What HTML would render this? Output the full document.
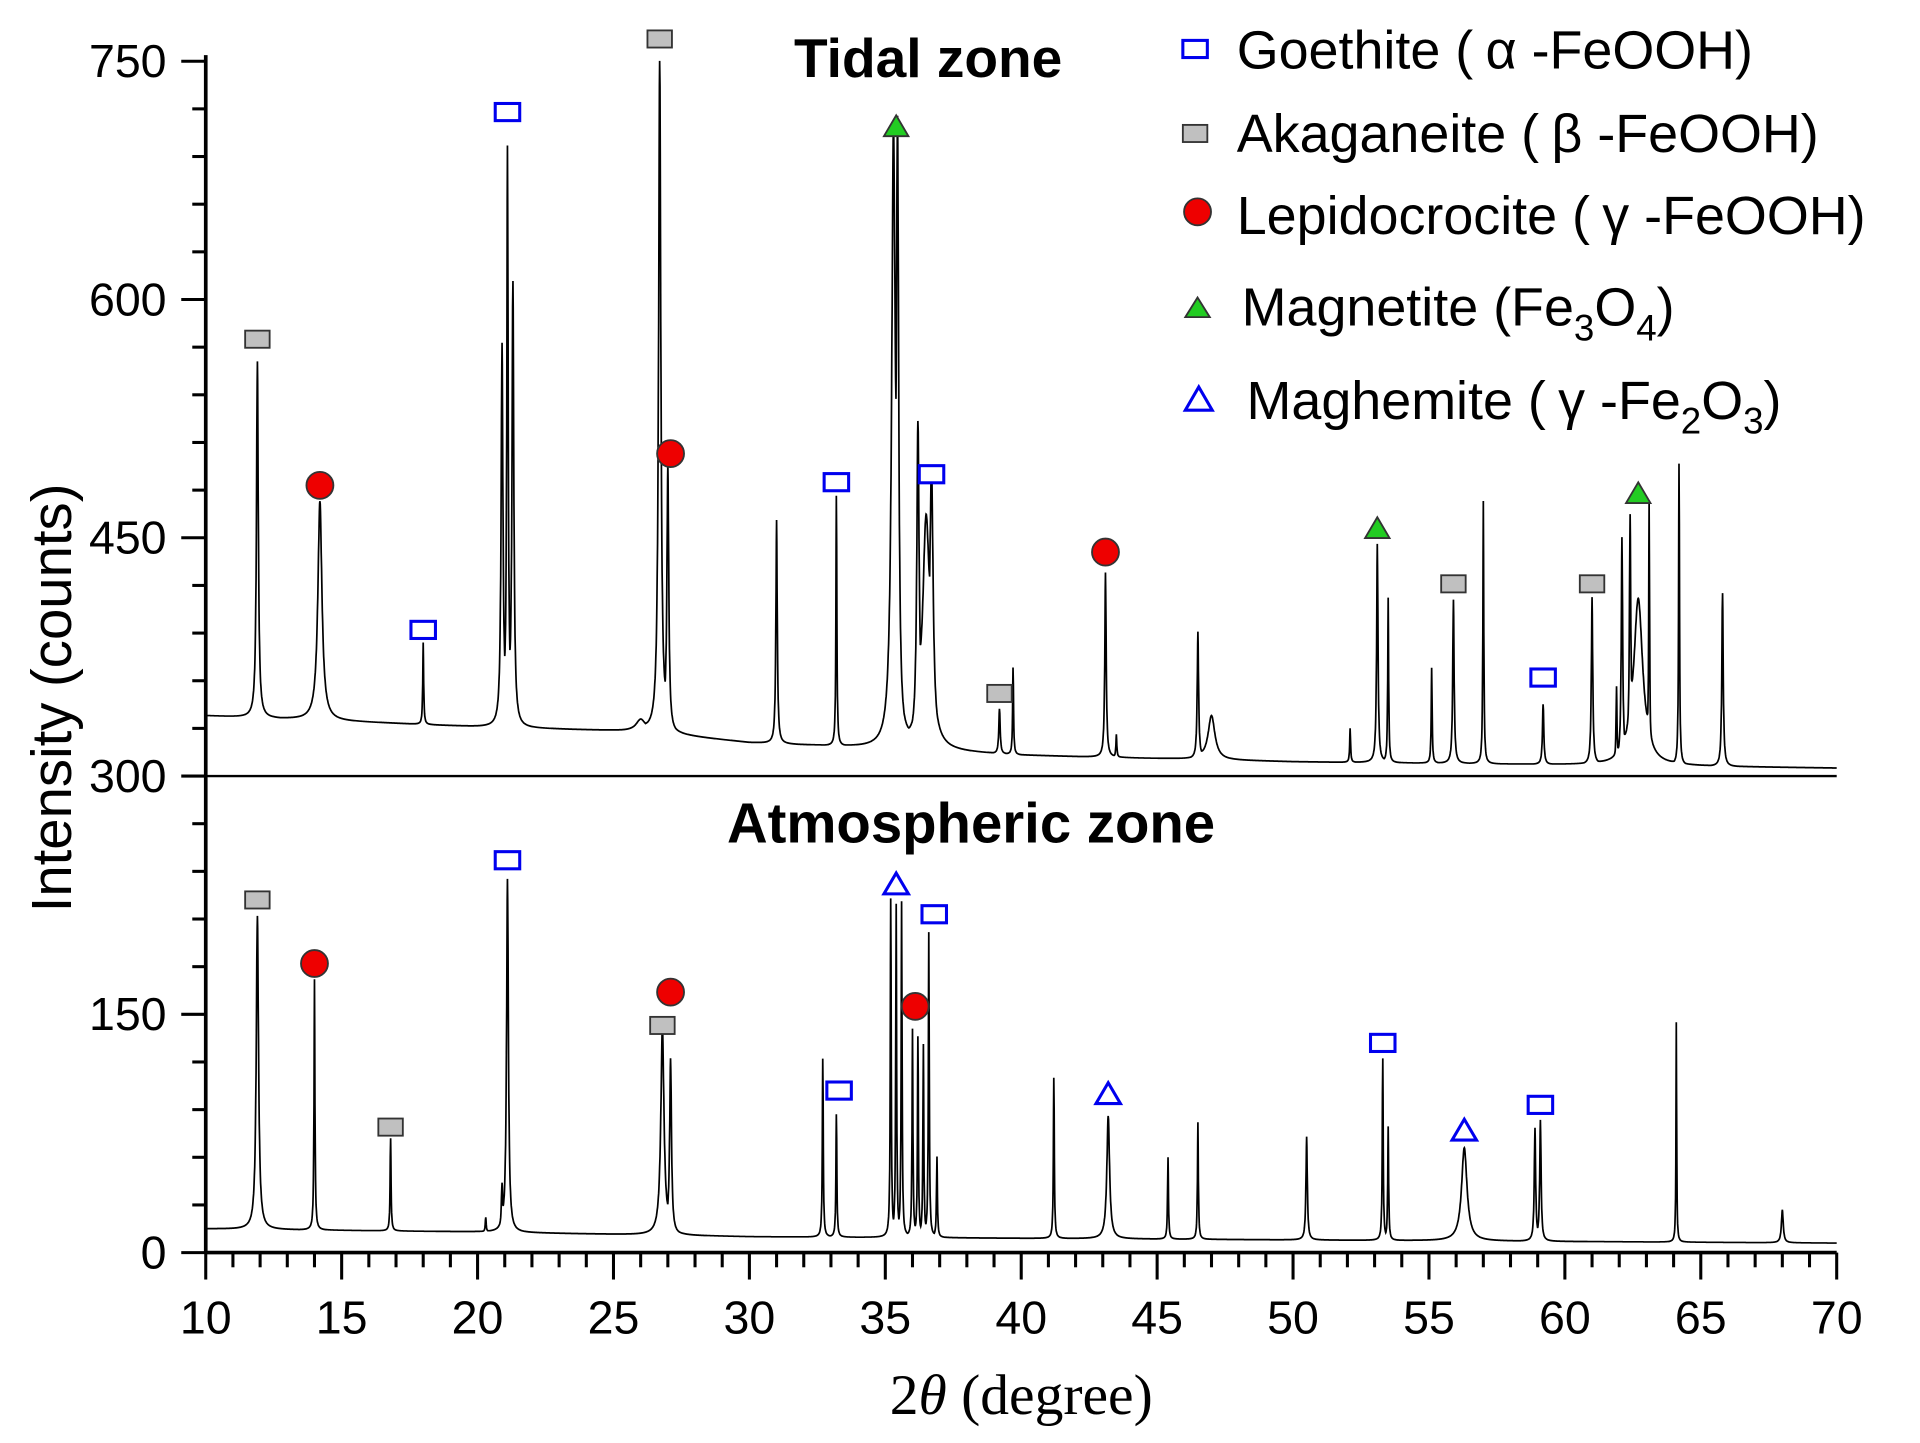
<!DOCTYPE html>
<html><head><meta charset="utf-8">
<style>html,body{margin:0;padding:0;background:#fff}svg{display:block}</style>
</head><body>
<svg id="chart" width="1920" height="1443" viewBox="0 0 1568 1178.5" xmlns="http://www.w3.org/2000/svg" font-family="Liberation Sans, sans-serif">
<g id="axes"></g>
<g id="series"></g>
<g id="markers"></g>
<text x="758" y="63" font-size="45" font-weight="bold" text-anchor="middle">Tidal zone</text>
<text x="793" y="688" font-size="46" font-weight="bold" text-anchor="middle">Atmospheric zone</text>
<text transform="translate(58,570) rotate(-90)" font-size="46" text-anchor="middle">Intensity (counts)</text>
<text x="834" y="1155" font-size="47" text-anchor="middle" font-family="Liberation Serif, serif">2<tspan font-style="italic">θ</tspan> (degree)</text>
<g id="legend" font-size="44">
 <g><rect x="966" y="33" width="20" height="14" fill="none" stroke="#0000ee" stroke-width="2.5"/><text x="1010" y="56">Goethite (<tspan dx="10">α</tspan> -FeOOH)</text></g>
 <g><rect x="966" y="102" width="20" height="14" fill="#c0c0c0" stroke="#333" stroke-width="1.5"/><text x="1010" y="124">Akaganeite (<tspan dx="10">β</tspan> -FeOOH)</text></g>
 <g><circle cx="978" cy="173" r="11" fill="#ee0000" stroke="#333" stroke-width="1.5"/><text x="1010" y="191">Lepidocrocite (<tspan dx="10">γ</tspan> -FeOOH)</text></g>
 <g><polygon points="968,259 988,259 978,243" fill="#22cc22" stroke="#333" stroke-width="1.5"/><text x="1014" y="266">Magnetite (Fe<tspan font-size="30" dy="12">3</tspan><tspan dy="-12">O</tspan><tspan font-size="30" dy="12">4</tspan><tspan dy="-12">)</tspan></text></g>
 <g><polygon points="968,335 990,335 979,316" fill="none" stroke="#0000ee" stroke-width="2.5"/><text x="1018" y="342">Maghemite (<tspan dx="10">γ</tspan> -Fe<tspan font-size="30" dy="12">2</tspan><tspan dy="-12">O</tspan><tspan font-size="30" dy="12">3</tspan><tspan dy="-12">)</tspan></text></g>
</g>
</svg>
<script>
const xTicks = [10,15,20,25,30,35,40,45,50,55,60,65,70];
const yTicks = [0,150,300,450,600,750];
// Tidal zone
const tidalBaseX = [10,20,26,30,34,40,50,60,70];
const tidalBaseY = [338,331,328,321,318,313,309,307,305];
const tidalPos = [11.9,14.2,18.0,20.9,21.1,21.3,26.0,26.7,27.0,31.0,33.2,35.3,35.45,36.2,36.5,36.7,39.2,39.7,43.1,43.5,46.5,47.0,52.1,53.1,53.5,55.1,55.9,57.0,59.2,61.0,61.9,62.1,62.4,62.7,63.1,64.2,65.8];
const tidalTop = [561,473,384,569,690,608,335,749,492,461,476,694,685,511,456,476,342,368,428,326,390,338,330,446,412,368,411,473,345,412,353,446,453,411,465,496,415];
const tidalWidth = [0.04,0.09,0.02,0.04,0.03,0.04,0.2,0.05,0.04,0.03,0.02,0.08,0.05,0.05,0.15,0.07,0.03,0.02,0.03,0.02,0.03,0.15,0.02,0.03,0.02,0.02,0.03,0.02,0.03,0.03,0.02,0.03,0.03,0.2,0.02,0.02,0.03];
// Atmospheric zone
const atmBaseX = [10,20,30,40,50,60,70];
const atmBaseY = [15,13,10,9,8,7,6];
const atmPos = [11.9,14.0,16.8,20.3,20.9,21.1,26.8,27.1,32.7,33.2,35.2,35.4,35.6,36.0,36.2,36.4,36.6,36.9,41.2,43.2,45.4,46.5,50.5,53.3,53.5,56.3,58.9,59.1,64.1,68.0];
const atmTop = [212,172,72,22,41,235,141,120,122,87,222,218,220,140,135,130,201,60,110,86,60,82,73,122,79,66,78,83,145,27];
const atmWidth = [0.05,0.02,0.02,0.02,0.03,0.04,0.07,0.04,0.02,0.02,0.02,0.02,0.02,0.02,0.02,0.02,0.02,0.02,0.02,0.06,0.02,0.02,0.03,0.02,0.02,0.12,0.03,0.03,0.015,0.04];
// Markers: [deg, counts]
const akaganeiteTidal = [[11.9,575],[26.7,764],[39.2,352],[55.9,421],[61.0,421]];
const goethiteTidal = [[21.1,718],[18.0,392],[33.2,485],[36.7,490],[59.2,362]];
const lepidoTidal = [[14.2,483],[27.1,503],[43.1,441]];
const magnetiteTidal = [[35.4,709],[53.1,456],[62.7,478]];
const akaganeiteAtm = [[11.9,222],[16.8,79],[26.8,143]];
const lepidoAtm = [[14.0,182],[27.1,164],[36.1,155]];
const goethiteAtm = [[21.1,247],[33.3,102],[36.8,213],[53.3,132],[59.1,93]];
const maghemiteAtm = [[35.4,232],[43.2,100],[56.3,77]];

const NS="http://www.w3.org/2000/svg";
const X0=168,X1=1500,Y0=1023,Y750=50;
const sx=d=>X0+(d-10)*(X1-X0)/60;
const sy=c=>Y0-c*(Y0-Y750)/750;
function mk(tag,attrs,parent){const e=document.createElementNS(NS,tag);for(const k in attrs)e.setAttribute(k,attrs[k]);parent.appendChild(e);return e;}
const axes=document.getElementById('axes');
let l=mk('line',{x1:X0,y1:Y0,x2:X1,y2:Y0,stroke:'#000','stroke-width':3},axes);


l=mk('line',{x1:X0,y1:Y0,x2:X0,y2:Y750-5,stroke:'#000','stroke-width':3},axes);


l=mk('line',{x1:X0,y1:sy(300),x2:X1,y2:sy(300),stroke:'#000','stroke-width':2},axes);


for(let d=10;d<=70;d++){const major=d%5===0;const t=mk('line',{x1:sx(d),y1:Y0,x2:sx(d),y2:Y0+(major?22:12),stroke:'#000','stroke-width':2.5},axes);

}
xTicks.forEach(v=>{const t=mk('text',{x:sx(v),y:1089,'font-size':38,'text-anchor':'middle'},axes);t.textContent=v;

});
for(let c=0;c<=750;c+=30){const major=c%150===0;const t=mk('line',{x1:X0,y1:sy(c),x2:X0-(major?20:11),y2:sy(c),stroke:'#000','stroke-width':2.5},axes);

}
yTicks.forEach(v=>{const t=mk('text',{x:136,y:sy(v)+13,'font-size':38,'text-anchor':'end'},axes);t.textContent=v;

});
function interp(xs,ys,x){for(let i=0;i<xs.length-1;i++){if(x<=xs[i+1])return ys[i]+(ys[i+1]-ys[i])*(x-xs[i])/(xs[i+1]-xs[i]);}return ys[ys.length-1];}
function build(bx,by,pos,top,wid){let d='';for(let x=10;x<=70.0001;x+=0.01){const b=interp(bx,by,x);let s=0,m=0;for(let i=0;i<pos.length;i++){const h=top[i]-interp(bx,by,pos[i]);const u=(x-pos[i])/wid[i];const c=h/(1+u*u);s+=c;if(c>m)m=c;}const y=b+m+0.35*(s-m);d+=(d?'L':'M')+sx(x).toFixed(1)+' '+sy(y).toFixed(1);}return d;}
const ser=document.getElementById('series');
let p=mk('path',{d:build(tidalBaseX,tidalBaseY,tidalPos,tidalTop,tidalWidth),fill:'none',stroke:'#000','stroke-width':1.4},ser);


p=mk('path',{d:build(atmBaseX,atmBaseY,atmPos,atmTop,atmWidth),fill:'none',stroke:'#000','stroke-width':1.4},ser);


const mg=document.getElementById('markers');
function sq(list,fill,stroke,sw,name){list.forEach(([d,c])=>{const e=mk('rect',{x:sx(d)-10,y:sy(c)-7,width:20,height:14,fill:fill,stroke:stroke,'stroke-width':sw},mg);

});}
function circ(list,name){list.forEach(([d,c])=>{const e=mk('circle',{cx:sx(d),cy:sy(c),r:11,fill:'#ee0000',stroke:'#333','stroke-width':1.5},mg);

});}
function tri(list,fill,stroke,sw,name){list.forEach(([d,c])=>{const x=sx(d),y=sy(c);const e=mk('polygon',{points:`${x-10},${y+8} ${x+10},${y+8} ${x},${y-9}`,fill:fill,stroke:stroke,'stroke-width':sw},mg);

});}
sq(akaganeiteTidal,'#c0c0c0','#333',1.5,'akaganeite-marker');
sq(akaganeiteAtm,'#c0c0c0','#333',1.5,'akaganeite-marker');
sq(goethiteTidal,'#fff','#0000ee',2.5,'goethite-marker');
sq(goethiteAtm,'#fff','#0000ee',2.5,'goethite-marker');
circ(lepidoTidal,'lepidocrocite-marker');
circ(lepidoAtm,'lepidocrocite-marker');
tri(magnetiteTidal,'#22cc22','#333',1.5,'magnetite-marker');
tri(maghemiteAtm,'#fff','#0000ee',2.5,'maghemite-marker');
</script>
</body></html>
